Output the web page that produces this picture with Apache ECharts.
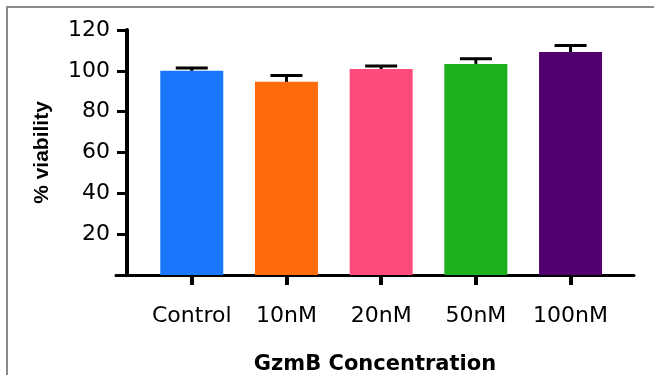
<!DOCTYPE html>
<html>
<head>
<meta charset="utf-8">
<script src="https://cdn.jsdelivr.net/npm/echarts@6/dist/echarts.min.js"></script>
<style>
  html, body { margin: 0; padding: 0; background: #fff; }
  #wrap { position: relative; width: 654px; height: 375px; overflow: hidden; }
  #chart { position: absolute; left: 0; top: 0; width: 654px; height: 375px; }
  #frame { position: absolute; left: 6px; top: 6px; right: -10px; bottom: -10px;
           border-left: 2px solid #8a8a8a; border-top: 2px solid #8a8a8a; pointer-events: none; }
</style>
</head>
<body>
<div id="wrap"><div id="chart"></div><div id="frame"></div></div>
<script>
const categories = ['Control', '10nM', '20nM', '50nM', '100nM'];
const viability = [100.0, 94.6, 100.9, 103.4, 109.2];
const errorUp = [1.4, 3.1, 1.5, 2.5, 3.2];
const barColors = ['#1877FA', '#FF6A0B', '#FF4A7C', '#1DB11E', '#52006F'];
const yTicks = [0, 20, 40, 60, 80, 100, 120];
const xTickPositions = categories.map((c, i) => i);

const barData = categories.map((c, i) => ({ value: [i, viability[i]], itemStyle: { color: barColors[i] } }));
const errData = categories.map((c, i) => [i, viability[i], viability[i] + errorUp[i]]);

const chart = echarts.init(document.getElementById('chart'), null, { renderer: 'canvas' });
chart.setOption({
  animation: false,
  backgroundColor: '#fff',
  grid: { left: 116, right: 20, top: 30, bottom: 100, containLabel: false, outerBoundsMode: 'none' },
  xAxis: {
    type: 'value',
    min: -0.8,
    max: 4.67,
    name: 'GzmB Concentration',
    nameLocation: 'middle',
    nameGap: 79,
    nameTextStyle: { fontFamily: 'DejaVu Sans', fontWeight: 'bold', fontSize: 21, color: '#000' },
    axisLine: { show: true, onZero: false, lineStyle: { color: '#000', width: 3 } },
    axisTick: { show: true, customValues: xTickPositions, length: 10, lineStyle: { color: '#000', width: 4 } },
    axisLabel: {
      customValues: xTickPositions,
      margin: 30,
      fontFamily: 'DejaVu Sans', fontSize: 22, color: '#000',
      formatter: v => categories[Math.round(v)] || ''
    },
    splitLine: { show: false }
  },
  yAxis: {
    type: 'value',
    min: yTicks[0],
    max: yTicks[yTicks.length - 1],
    interval: 20,
    offset: -11,
    name: '% viability',
    nameLocation: 'middle',
    nameGap: 74,
    nameTextStyle: { fontFamily: 'Liberation Sans', fontWeight: 'bold', fontSize: 21, color: '#000' },
    axisLine: { show: true, onZero: false, lineStyle: { color: '#000', width: 4 } },
    axisTick: { show: true, length: 10, lineStyle: { color: '#000', width: 3 } },
    axisLabel: { showMinLabel: false, margin: 17, fontFamily: 'DejaVu Sans', fontSize: 22, color: '#000' },
    splitLine: { show: false }
  },
  series: [
    {
      type: 'bar',
      data: barData,
      barWidth: 63,
      z: 2
    },
    {
      type: 'custom',
      z: 3,
      data: errData,
      renderItem: function (params, api) {
        const x = api.value(0);
        const base = api.coord([x, api.value(1)]);
        const top = api.coord([x, api.value(2)]);
        const half = 16;
        const style = { stroke: '#000', lineWidth: 3 };
        return {
          type: 'group',
          children: [
            { type: 'line', shape: { x1: base[0], y1: base[1], x2: top[0], y2: top[1] }, style: style },
            { type: 'line', shape: { x1: top[0] - half, y1: top[1], x2: top[0] + half, y2: top[1] }, style: style }
          ]
        };
      }
    }
  ]
});
</script>
</body>
</html>
